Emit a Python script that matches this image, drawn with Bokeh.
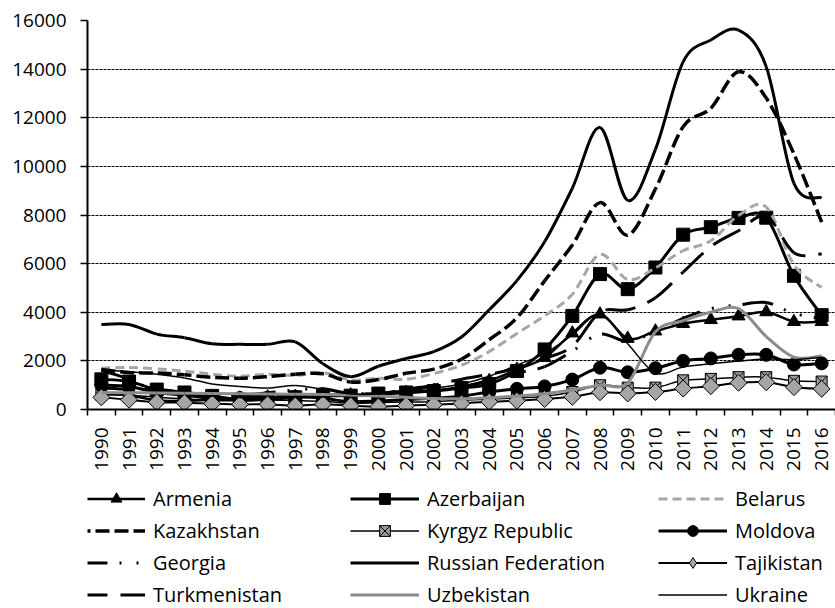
import math
import numpy as np
from bokeh.plotting import figure
from bokeh.layouts import column
from bokeh.models import ColumnDataSource, FixedTicker, Legend, LegendItem, Range1d
from bokeh.embed import file_html
from bokeh.resources import INLINE

# ---------------- data (GDP per capita, current US$) ----------------
years = list(range(1990, 2017))
armenia = [640, 590, 370, 360, 400, 460, 510, 520, 610, 590, 620, 690, 780, 930, 1180, 1640, 2130, 3140, 3920, 2920, 3220, 3530, 3690, 3840, 4010, 3610, 3610]
azerbaijan = [1240, 1150, 820, 700, 560, 400, 410, 500, 560, 570, 655, 700, 760, 880, 1050, 1580, 2470, 3850, 5570, 4950, 5840, 7190, 7500, 7880, 7890, 5500, 3880]
belarus = [1700, 1730, 1670, 1580, 1450, 1370, 1450, 1400, 1510, 1210, 1280, 1240, 1480, 1820, 2380, 3130, 3850, 4740, 6380, 5350, 5820, 6530, 6940, 7980, 8320, 5950, 5020]
kazakhstan = [1650, 1520, 1500, 1430, 1320, 1290, 1350, 1450, 1470, 1130, 1230, 1490, 1660, 2070, 2870, 3770, 5290, 6770, 8510, 7170, 9070, 11630, 12390, 13890, 12810, 10510, 7710]
kyrgyz = [610, 590, 500, 440, 370, 360, 390, 370, 340, 260, 280, 310, 320, 380, 430, 480, 540, 720, 1000, 900, 900, 1200, 1260, 1330, 1330, 1180, 1150]
moldova = [1000, 950, 700, 600, 450, 470, 480, 530, 460, 320, 350, 410, 460, 550, 720, 850, 950, 1230, 1720, 1530, 1700, 2000, 2100, 2250, 2250, 1850, 1900]
georgia = [1600, 1250, 750, 600, 550, 580, 690, 800, 850, 650, 700, 740, 780, 930, 1200, 1500, 1760, 2400, 3100, 2800, 3200, 3750, 4150, 4300, 4400, 3950, 3750]
russia = [3500, 3500, 3100, 2950, 2700, 2680, 2680, 2780, 1880, 1350, 1780, 2100, 2380, 2980, 4100, 5300, 6900, 9100, 11600, 8600, 10700, 14300, 15200, 15600, 14100, 9300, 8700]
tajikistan = [500, 400, 300, 280, 240, 210, 210, 160, 220, 160, 120, 160, 200, 250, 320, 360, 430, 520, 710, 660, 720, 860, 960, 1100, 1120, 920, 850]
turkmenistan = [880, 830, 830, 700, 580, 520, 540, 570, 550, 650, 650, 830, 1000, 1250, 1450, 1700, 2100, 2600, 4000, 4100, 4600, 5650, 6700, 7350, 7950, 6450, 6400]
uzbekistan = [700, 690, 680, 670, 660, 650, 640, 630, 620, 600, 560, 500, 450, 440, 480, 550, 650, 800, 1000, 1100, 3200, 3650, 4000, 4150, 3000, 2150, 2200]
ukraine = [1650, 1550, 1450, 1300, 1050, 950, 880, 990, 830, 640, 640, 780, 880, 1050, 1370, 1830, 2300, 3070, 3900, 2700, 1500, 1750, 1880, 1990, 2080, 2050, 2150]
y_ticks = [0, 2000, 4000, 6000, 8000, 10000, 12000, 14000, 16000]

# ---------------- layout ----------------
FONT = "Open Sans"
W, H = 835, 478
ML, MR, MT, MB = 87, 0, 20, 69
LH = 130
X0, X1 = 1989.5, 2016.5
Y0, Y1 = 0, 16000
kx = (W - ML - MR) / (X1 - X0)
ky = (H - MT - MB) / (Y1 - Y0)

p = figure(width=W, height=H, x_range=Range1d(X0, X1), y_range=Range1d(Y0, Y1),
           output_backend="svg", toolbar_location=None,
           min_border_left=ML, min_border_right=MR, min_border_top=MT, min_border_bottom=MB)
p.outline_line_color = None
p.background_fill_color = "white"
p.border_fill_color = "white"

p.xgrid.visible = False
p.ygrid.ticker = FixedTicker(ticks=y_ticks)
p.ygrid.grid_line_color = "#000000"
p.ygrid.grid_line_width = 1
p.ygrid.grid_line_dash = "3 1"

ya = p.yaxis[0]
ya.ticker = FixedTicker(ticks=y_ticks)
ya.axis_line_width = 2
ya.axis_line_color = "black"
ya.major_tick_out = 7
ya.major_tick_in = 0
ya.major_tick_line_width = 1.5
ya.minor_tick_line_color = None
ya.major_label_standoff = 14
ya.major_label_text_font = FONT
ya.major_label_text_font_size = "19px"
ya.major_label_text_color = "black"

xa = p.xaxis[0]
xa.ticker = FixedTicker(ticks=years, minor_ticks=[y - 0.5 for y in years] + [years[-1] + 0.5])
xa.axis_line_width = 2
xa.axis_line_color = "black"
xa.major_tick_line_color = None
xa.major_tick_out = 0
xa.major_tick_in = 0
xa.minor_tick_out = 6
xa.minor_tick_in = 0
xa.minor_tick_line_width = 1.5
xa.minor_tick_line_color = "black"
xa.major_label_orientation = math.pi / 2
xa.major_label_standoff = 12
xa.major_label_text_font = FONT
xa.major_label_text_font_size = "19px"
xa.major_label_text_color = "black"

# legend figure below the chart (its frame is aligned with the chart's frame)
q = figure(width=W, height=LH, x_range=Range1d(0, W - ML), y_range=Range1d(0, LH),
           output_backend="svg", toolbar_location=None,
           min_border_left=ML, min_border_right=0, min_border_top=0, min_border_bottom=0)
q.axis.visible = False
q.grid.visible = False
q.outline_line_color = None
q.background_fill_color = "white"
q.border_fill_color = "white"


def smooth_source(xs, ys):
    x = np.asarray(xs, float)
    y = np.asarray(ys, float)
    n = len(x)
    xp = np.concatenate([[x[0]], x, [x[-1]]])
    yp = np.concatenate([[y[0]], y, [y[-1]]])
    cx0 = x[:-1] + (x[1:] - xp[:n - 1]) / 6
    cy0 = y[:-1] + (y[1:] - yp[:n - 1]) / 6
    cx1 = x[1:] - (xp[3:n + 2] - x[:-1]) / 6
    cy1 = y[1:] - (yp[3:n + 2] - y[:-1]) / 6
    t = np.linspace(0, 1, 25)[:, None]
    bx = (1 - t) ** 3 * x[:-1] + 3 * (1 - t) ** 2 * t * cx0 + 3 * (1 - t) * t ** 2 * cx1 + t ** 3 * x[1:]
    by = (1 - t) ** 3 * y[:-1] + 3 * (1 - t) ** 2 * t * cy0 + 3 * (1 - t) * t ** 2 * cy1 + t ** 3 * y[1:]
    seg = np.sqrt((np.diff(bx, axis=0) * kx) ** 2 + (np.diff(by, axis=0) * ky) ** 2).sum(axis=0)
    off = np.concatenate([[0.0], np.cumsum(seg)[:-1]])
    return ColumnDataSource(dict(x0=x[:-1], y0=y[:-1], x1=x[1:], y1=y[1:],
                                 cx0=cx0, cy0=cy0, cx1=cx1, cy1=cy1,
                                 off=[int(round(o)) for o in off]))


def series(ys, color, width, dash="solid", marker=None, size=10, fill=None,
           angle=0.0, lmarker=None, mline=1.0, loff=0):
    src = smooth_source(years, ys)
    p.bezier(x0="x0", y0="y0", x1="x1", y1="y1", cx0="cx0", cy0="cy0", cx1="cx1", cy1="cy1",
             source=src, line_color=color, line_width=width, line_dash=dash,
             line_dash_offset="off")
    # proxies for the legend (their data lie outside the legend figure's ranges)
    rs = [q.line(x=years, y=ys, line_color=color, line_width=width, line_dash=dash,
                 line_dash_offset=loff)]
    if marker is not None:
        p.scatter(x=years, y=ys, marker=marker, size=size, angle=angle,
                  fill_color=fill, line_color="black", line_width=mline)
        rs.append(q.scatter(x=years, y=ys, marker=lmarker or marker, size=size,
                            fill_color=fill, line_color="black", line_width=mline))
    return rs


r_arm = series(armenia, "black", 2.5, marker="triangle", size=13, fill="black")
r_aze = series(azerbaijan, "black", 3, marker="square", size=13, fill="black")
r_bel = series(belarus, "#a6a6a6", 3, dash="9 5")
r_kaz = series(kazakhstan, "black", 3.5, dash="14 5", loff=11)
r_kyr = series(kyrgyz, "black", 1.5, marker="square_x", size=11, fill="#9a9a9a")
r_mol = series(moldova, "black", 3, marker="circle", size=13, fill="black")
r_geo = series(georgia, "black", 3, dash="31 12 2 15 2 12", loff=11)
r_rus = series(russia, "black", 3)
r_taj = series(tajikistan, "black", 2, marker="square", size=12, fill="#a6a6a6",
               angle=math.pi / 4, lmarker="diamond")
r_tur = series(turkmenistan, "black", 3, dash="31 13", loff=11)
r_uzb = series(uzbekistan, "#8c8c8c", 3)
r_ukr = series(ukraine, "black", 1.5)

columns = [
    [("Armenia", r_arm), ("Kazakhstan", r_kaz), ("Georgia", r_geo), ("Turkmenistan", r_tur)],
    [("Azerbaijan", r_aze), ("Kyrgyz Republic", r_kyr), ("Russian Federation", r_rus), ("Uzbekistan", r_uzb)],
    [("Belarus", r_bel), ("Moldova", r_mol), ("Tajikistan", r_taj), ("Ukraine", r_ukr)],
]
col_x = [0, 263, 571]
col_gw = [58, 69, 69]
for cx, gw, col in zip(col_x, col_gw, columns):
    leg = Legend(items=[LegendItem(label=lab, renderers=rs) for lab, rs in col],
                 location=(cx, 0), orientation="vertical",
                 glyph_width=gw, glyph_height=27, label_height=20, label_standoff=8,
                 spacing=5, padding=0, margin=0,
                 border_line_color=None, background_fill_alpha=0,
                 label_text_font=FONT, label_text_font_size="20px",
                 label_text_color="black")
    q.add_layout(leg, "center")

open("out.html", "w").write(file_html(column(p, q), INLINE))
